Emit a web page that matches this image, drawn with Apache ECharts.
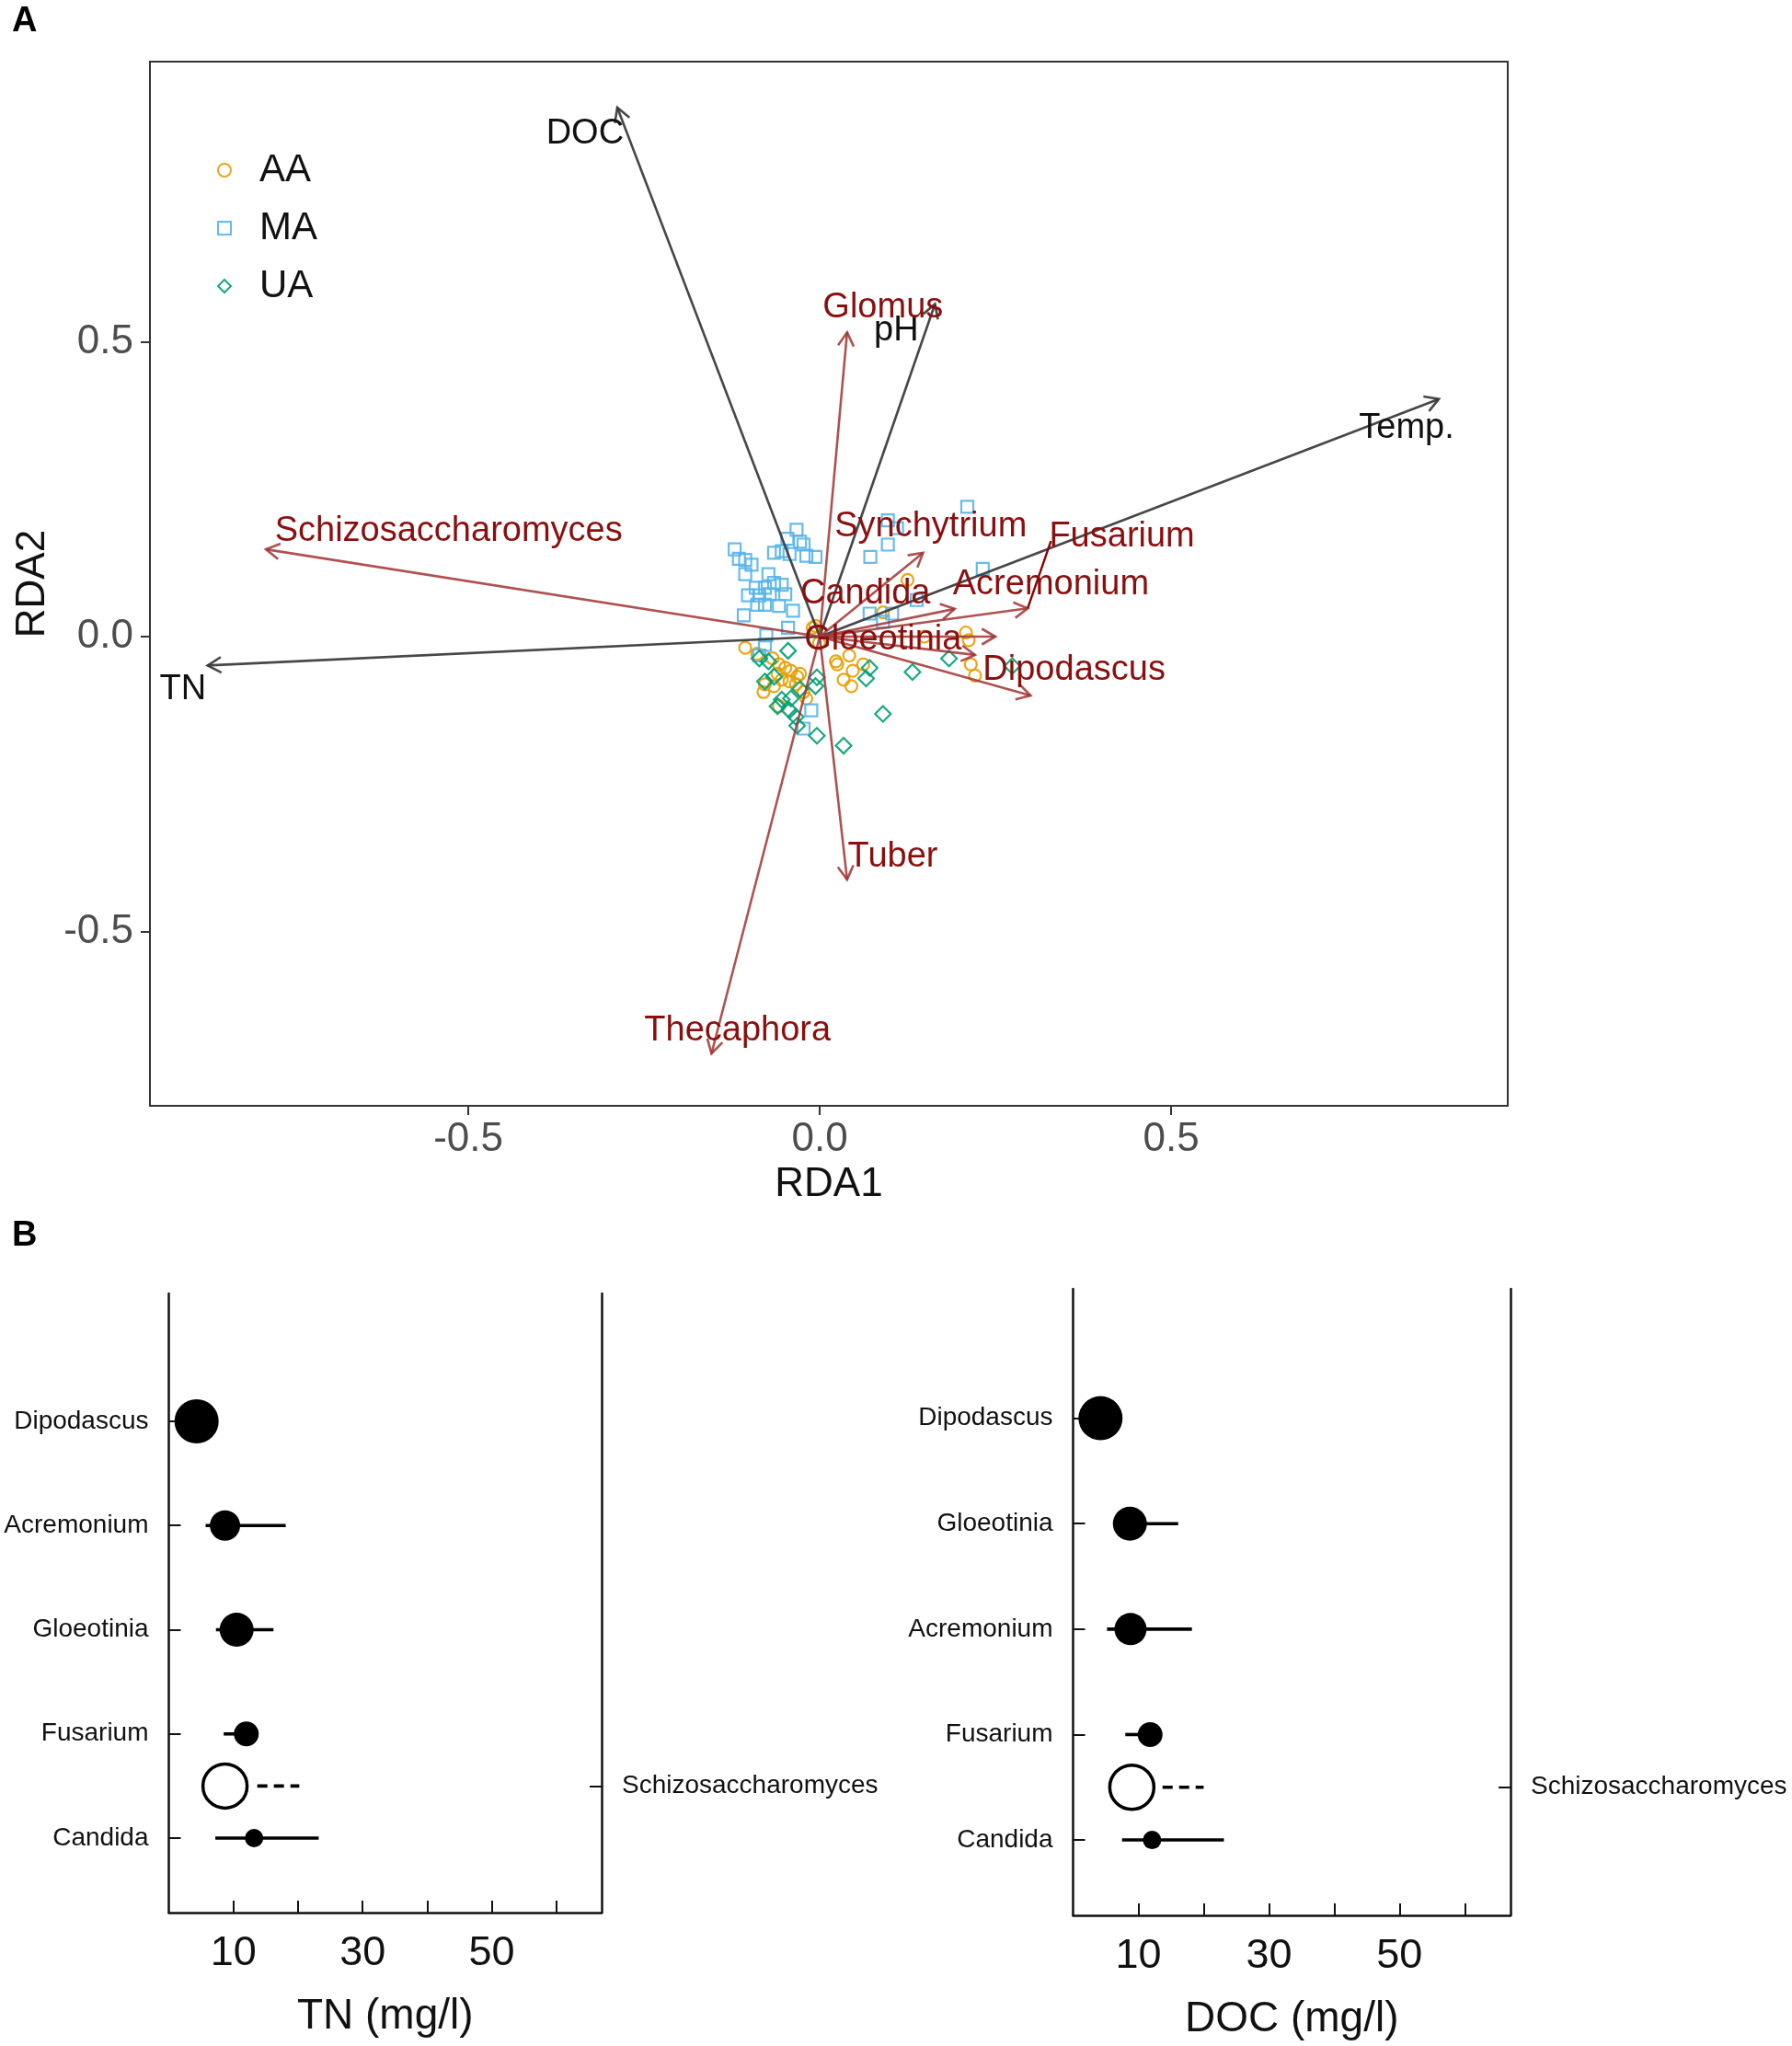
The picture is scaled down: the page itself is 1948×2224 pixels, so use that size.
<!DOCTYPE html>
<html>
<head>
<meta charset="utf-8">
<script src="https://cdn.jsdelivr.net/npm/echarts@6/dist/echarts.min.js"></script>
<style>
  html, body { margin: 0; padding: 0; background: #fff; }
  #chart { width: 1948px; height: 2224px; }
</style>
</head>
<body>
<div id="chart"></div>
<script>
// --- panel A: RDA biplot ---
var maPts = [[-0.033,0.181],[-0.046,0.166],[-0.028,0.161],[-0.023,0.156],[-0.121,0.148],[-0.065,0.142],[-0.054,0.145],[-0.043,0.140],[-0.019,0.137],[-0.006,0.135],[-0.115,0.132],[-0.106,0.130],[-0.097,0.122],[-0.106,0.106],[-0.073,0.106],[-0.065,0.091],[-0.054,0.088],[-0.091,0.083],[-0.078,0.083],[-0.102,0.070],[-0.086,0.070],[-0.071,0.072],[-0.049,0.072],[-0.089,0.054],[-0.078,0.054],[-0.058,0.052],[-0.038,0.044],[-0.108,0.036],[-0.045,0.015],[-0.076,0.002],[-0.078,-0.014],[-0.086,-0.032],[-0.012,-0.125],[-0.023,-0.156],[0.210,0.220],[0.097,0.197],[0.110,0.184],[0.097,0.156],[0.072,0.135],[0.232,0.115],[0.071,0.039],[0.103,0.039],[0.090,0.025],[0.138,0.062]];
var aaPts = [[-0.106,-0.019],[-0.010,0.015],[-0.089,-0.029],[-0.067,-0.037],[-0.058,-0.047],[-0.049,-0.053],[-0.041,-0.058],[-0.060,-0.063],[-0.032,-0.068],[-0.054,-0.073],[-0.043,-0.076],[-0.034,-0.081],[-0.065,-0.084],[-0.080,-0.094],[-0.023,-0.094],[-0.028,-0.063],[-0.078,-0.081],[-0.058,-0.118],[-0.019,-0.105],[0.025,-0.047],[0.034,-0.073],[0.125,0.096],[0.090,0.041],[-0.006,0.018],[0.208,0.007],[0.212,-0.006],[0.149,0.000],[0.023,-0.042],[0.042,-0.032],[0.062,-0.047],[0.047,-0.058],[0.045,-0.084],[0.215,-0.047],[0.221,-0.066],[-0.001,-0.011]];
var uaPts = [[-0.045,-0.024],[-0.073,-0.042],[-0.086,-0.037],[-0.078,-0.076],[-0.004,-0.069],[-0.006,-0.084],[-0.054,-0.107],[-0.041,-0.105],[-0.060,-0.118],[-0.043,-0.125],[-0.034,-0.136],[-0.032,-0.151],[-0.004,-0.168],[-0.028,-0.089],[-0.065,-0.068],[0.071,-0.053],[0.066,-0.071],[0.132,-0.060],[0.184,-0.037],[0.274,-0.050],[0.090,-0.131],[0.034,-0.185]];

var envNames = ['DOC', 'pH', 'Temp.', 'TN'];
var envX = [-0.288, 0.164, 0.881, -0.871];
var envY = [0.897, 0.564, 0.403, -0.049];
var envLabX = [-0.334, 0.109, 0.835, -0.906];
var envLabY = [0.853, 0.519, 0.354, -0.090];

var sppNames = ['Glomus', 'Schizosaccharomyces', 'Synchytrium', 'Fusarium', 'Acremonium', 'Candida', 'Gloeotinia', 'Dipodascus', 'Tuber', 'Thecaphora'];
var sppX = [0.039, -0.788, 0.147, 0.296, 0.250, 0.192, 0.221, 0.300, 0.039, -0.154];
var sppY = [0.516, 0.148, 0.142, 0.048, 0.000, 0.047, -0.031, -0.100, -0.412, -0.707];
var sppLabX = [0.090, -0.528, 0.158, 0.430, 0.329, 0.065, 0.090, 0.362, 0.104, -0.117];
var sppLabY = [0.557, 0.179, 0.187, 0.169, 0.088, 0.072, -0.005, -0.057, -0.374, -0.669];
var fusLink = [[0.296, 0.048], [0.329, 0.162]];

// --- panel B: TN / DOC dot plots ---
var tnTaxa = ['Dipodascus', 'Acremonium', 'Gloeotinia', 'Fusarium', 'Candida'];
var tnMean = [4.3, 8.7, 10.5, 12.0, 13.2];
var tnLow = [4.3, 5.7, 7.3, 8.5, 7.2];
var tnHigh = [4.3, 18.1, 16.2, 12.0, 23.2];
var tnWeight = [48, 33, 37, 27, 20];
var tnSchizo = [8.7, 13.7, 20.2, 48];

var docTaxa = ['Dipodascus', 'Gloeotinia', 'Acremonium', 'Fusarium', 'Candida'];
var docMean = [4.2, 8.7, 8.8, 11.8, 12.1];
var docLow = [4.2, 6.5, 5.2, 8.0, 7.5];
var docHigh = [4.2, 16.1, 18.2, 11.8, 23.1];
var docWeight = [48, 37, 35, 27, 20];
var docSchizo = [9.0, 13.7, 20.0, 48];

var rowPos = [5, 4, 3, 2, 1];
var schizoPos = 1.5;
var xTicks = [10, 20, 30, 40, 50, 60];
var xLabels = [10, 30, 50];

var FONT = 'Liberation Sans, Arial, Helvetica, sans-serif';

function zip(xs, ys) {
	var out = [];
	for (var i = 0; i < xs.length; i++) {
		out.push([xs[i], ys[i]]);
	}
	return out;
}

function arrowItem(color) {
	return function (params, api) {
		var o = api.coord([0, 0]);
		var t = api.coord([api.value(0), api.value(1)]);
		var a = Math.atan2(t[1] - o[1], t[0] - o[0]);
		var h = 17, s = Math.PI / 6;
		return {
			type: 'group',
			children: [
				{ type: 'line', shape: { x1: o[0], y1: o[1], x2: t[0], y2: t[1] }, style: { stroke: color, lineWidth: 2.6 } },
				{
					type: 'polyline',
					shape: { points: [
						[t[0] - h * Math.cos(a - s), t[1] - h * Math.sin(a - s)],
						[t[0], t[1]],
						[t[0] - h * Math.cos(a + s), t[1] - h * Math.sin(a + s)]
					] },
					style: { stroke: color, lineWidth: 2.6, fill: null }
				}
			]
		};
	};
}

function labelItem(names, color) {
	return function (params, api) {
		var p = api.coord([api.value(0), api.value(1)]);
		return {
			type: 'text', x: p[0], y: p[1],
			style: { text: names[params.dataIndex], fill: color, fontSize: 38, fontFamily: FONT, align: 'center', verticalAlign: 'middle' }
		};
	};
}

function errItem(dashed) {
	return function (params, api) {
		var a = api.coord([api.value(0), api.value(2)]);
		var b = api.coord([api.value(1), api.value(2)]);
		return {
			type: 'line',
			shape: { x1: a[0], y1: a[1], x2: b[0], y2: b[1] },
			style: { stroke: '#000', lineWidth: 3.6, lineDash: dashed ? [11, 7] : null }
		};
	};
}

function ptsSeries(name, pts, symbol, color) {
	return {
		name: name, type: 'scatter', xAxisIndex: 0, yAxisIndex: 0,
		symbol: symbol, symbolSize: symbol === 'diamond' ? 17 : 13,
		color: color,
		itemStyle: { color: 'rgba(0,0,0,0)', borderColor: color, borderWidth: 2.2, opacity: 0.9 },
		data: pts, z: 2
	};
}

function dotPanel(idx, taxa, mean, low, high, weight, schizo, title) {
	var xi = idx, yl = idx * 2 - 1;
	var errData = [], dotData = [];
	for (var i = 0; i < taxa.length; i++) {
		errData.push([low[i], high[i], rowPos[i]]);
		dotData.push([mean[i], rowPos[i], weight[i]]);
	}
	var labelMap = {};
	for (var j = 0; j < taxa.length; j++) labelMap[rowPos[j]] = taxa[j];
	return {
		x: {
			type: 'value', gridIndex: idx, min: 0, max: 67,
			name: title, nameLocation: 'middle', nameGap: 90,
			nameTextStyle: { fontSize: 46, color: '#111', fontFamily: FONT },
			axisLine: { show: true, onZero: false, lineStyle: { color: '#111', width: 2.5 } },
			axisTick: { show: true, inside: true, length: 13, customValues: xTicks, lineStyle: { color: '#111', width: 2 } },
			axisLabel: { customValues: xLabels, fontSize: 45, color: '#111', fontFamily: FONT, margin: 22 },
			splitLine: { show: false }
		},
		yl: {
			type: 'value', gridIndex: idx, min: 0.285, max: 6.227, position: 'left',
			axisLine: { show: true, onZero: false, lineStyle: { color: '#111', width: 2.5 } },
			axisTick: { show: true, inside: true, length: 13, customValues: rowPos, lineStyle: { color: '#111', width: 2 } },
			axisLabel: { customValues: rowPos, fontSize: 28, color: '#111', fontFamily: FONT, margin: 22,
				formatter: function (v) { return labelMap[v] || ''; } },
			splitLine: { show: false }
		},
		yr: {
			type: 'value', gridIndex: idx, min: 0.285, max: 6.227, position: 'right',
			axisLine: { show: true, onZero: false, lineStyle: { color: '#111', width: 2.5 } },
			axisTick: { show: true, inside: true, length: 13, customValues: [schizoPos], lineStyle: { color: '#111', width: 2 } },
			axisLabel: { customValues: [schizoPos], fontSize: 28, color: '#111', fontFamily: FONT, margin: 22,
				formatter: function () { return 'Schizosaccharomyces'; } },
			splitLine: { show: false }
		},
		series: [
			{ type: 'custom', xAxisIndex: xi, yAxisIndex: yl, renderItem: errItem(false), data: errData, z: 3, silent: true },
			{ type: 'custom', xAxisIndex: xi, yAxisIndex: yl, renderItem: errItem(true), data: [[schizo[1], schizo[2], schizoPos]], z: 3, silent: true },
			{ type: 'scatter', xAxisIndex: xi, yAxisIndex: yl, symbol: 'circle',
				symbolSize: function (d) { return d[2]; },
				itemStyle: { color: '#000', opacity: 1 }, data: dotData, z: 4 },
			{ type: 'scatter', xAxisIndex: xi, yAxisIndex: yl, symbol: 'circle',
				symbolSize: function (d) { return d[2]; },
				itemStyle: { color: '#fff', borderColor: '#000', borderWidth: 3.5, opacity: 1 },
				data: [[schizo[0], schizoPos, schizo[3]]], z: 4 }
		]
	};
}

var tnPanel = dotPanel(1, tnTaxa, tnMean, tnLow, tnHigh, tnWeight, tnSchizo, 'TN (mg/l)');
var docPanel = dotPanel(2, docTaxa, docMean, docLow, docHigh, docWeight, docSchizo, 'DOC (mg/l)');

var chart = echarts.init(document.getElementById('chart'), null, { renderer: 'canvas' });
var option = {
	backgroundColor: '#fff',
	animation: false,
	title: [
		{ text: 'A', left: 8, top: 0, textStyle: { fontSize: 38, fontWeight: 'bold', color: '#000', fontFamily: FONT } },
		{ text: 'B', left: 8, top: 1320, textStyle: { fontSize: 38, fontWeight: 'bold', color: '#000', fontFamily: FONT } }
	],
	legend: {
		data: ['AA', 'MA', 'UA'],
		orient: 'vertical', left: 231, top: 159,
		itemWidth: 14, itemHeight: 14, itemGap: 21,
		textStyle: { fontSize: 42, color: '#111', fontFamily: FONT, padding: [0, 0, 0, 26] }
	},
	grid: [
		{ left: 163, top: 67, width: 1476, height: 1135, show: true, borderColor: '#333', borderWidth: 2, backgroundColor: '#fff' },
		{ left: 183.5, top: 1406, width: 470.5, height: 673 },
		{ left: 1166.5, top: 1401, width: 475.5, height: 681 }
	],
	xAxis: [
		{
			type: 'value', gridIndex: 0, min: -0.953, max: 0.979,
			name: 'RDA1', nameLocation: 'middle', nameGap: 62,
			nameTextStyle: { fontSize: 44, color: '#111', fontFamily: FONT },
			axisLine: { show: false, onZero: false },
			axisTick: { show: true, length: 10, customValues: [-0.5, 0, 0.5], lineStyle: { color: '#333', width: 2 } },
			axisLabel: { customValues: [-0.5, 0, 0.5], fontSize: 44, color: '#4d4d4d', fontFamily: FONT, margin: 15,
				formatter: function (v) { return v.toFixed(1); } },
			splitLine: { show: false }
		},
		tnPanel.x,
		docPanel.x
	],
	yAxis: [
		{
			type: 'value', gridIndex: 0, min: -0.7956, max: 0.975,
			name: 'RDA2', nameLocation: 'middle', nameGap: 105,
			nameTextStyle: { fontSize: 44, color: '#111', fontFamily: FONT },
			axisLine: { show: false, onZero: false },
			axisTick: { show: true, length: 10, customValues: [-0.5, 0, 0.5], lineStyle: { color: '#333', width: 2 } },
			axisLabel: { customValues: [-0.5, 0, 0.5], fontSize: 44, color: '#4d4d4d', fontFamily: FONT, margin: 18,
				formatter: function (v) { return v.toFixed(1); } },
			splitLine: { show: false }
		},
		tnPanel.yl, tnPanel.yr,
		docPanel.yl, docPanel.yr
	],
	series: [
		ptsSeries('AA', aaPts, 'circle', '#E69F00'),
		ptsSeries('MA', maPts, 'rect', '#56B4E9'),
		ptsSeries('UA', uaPts, 'diamond', '#009E73'),
		{ type: 'custom', xAxisIndex: 0, yAxisIndex: 0, renderItem: arrowItem('rgba(55,55,55,0.92)'), data: zip(envX, envY), z: 5, silent: true },
		{ type: 'custom', xAxisIndex: 0, yAxisIndex: 0, renderItem: arrowItem('rgba(160,52,50,0.85)'), data: zip(sppX, sppY), z: 6, silent: true },
		{ type: 'lines', coordinateSystem: 'cartesian2d', xAxisIndex: 0, yAxisIndex: 0,
			lineStyle: { color: '#8b0000', width: 2.4, opacity: 1 }, data: [{ coords: fusLink }], z: 6, silent: true },
		{ type: 'custom', xAxisIndex: 0, yAxisIndex: 0, renderItem: labelItem(envNames, '#111'), data: zip(envLabX, envLabY), z: 7, silent: true },
		{ type: 'custom', xAxisIndex: 0, yAxisIndex: 0, renderItem: labelItem(sppNames, '#8b0f0f'), data: zip(sppLabX, sppLabY), z: 7, silent: true }
	].concat(tnPanel.series, docPanel.series)
};
chart.setOption(option);
</script>
</body>
</html>
